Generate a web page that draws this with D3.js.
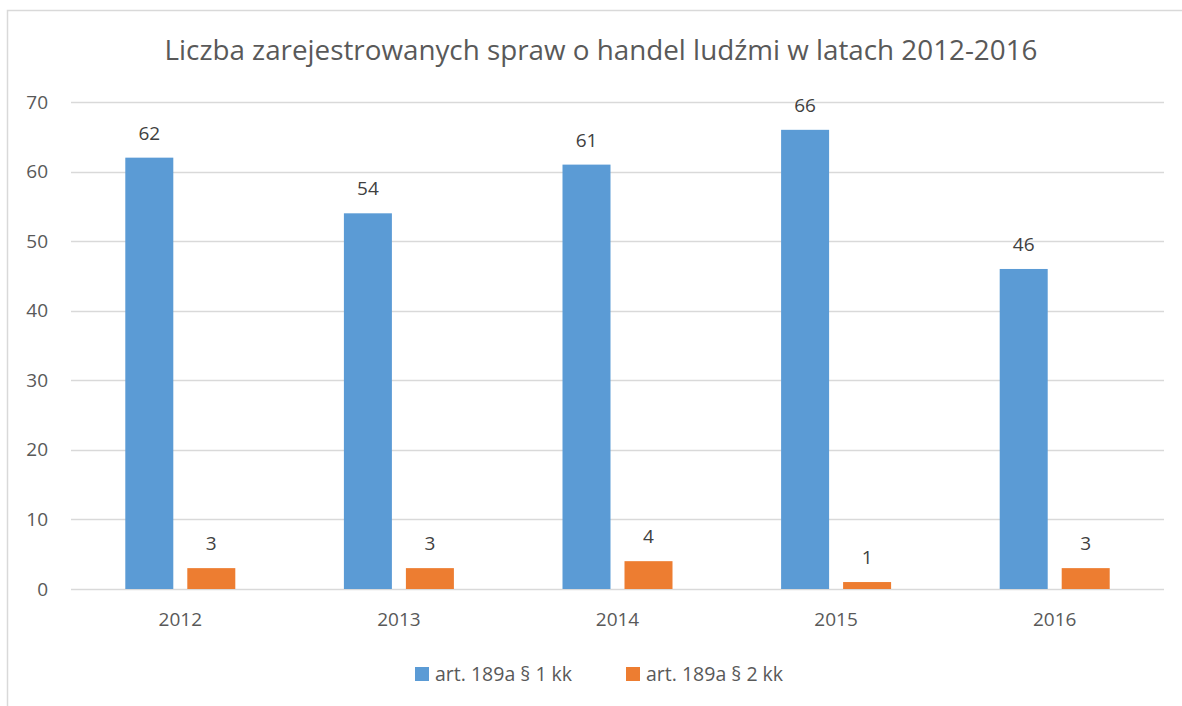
<!DOCTYPE html>
<html>
<head>
  <meta charset="utf-8">
  <script src="https://d3js.org/d3.v7.min.js"></script>
  <style>
    body { margin: 0; background: #fff; }
    text { font-family: "Open Sans", "DejaVu Sans", sans-serif; fill: #595959; }
  </style>
</head>
<body>
<div id="chart"></div>
<script>
  // data
  var years = ["2012", "2013", "2014", "2015", "2016"];
  var art1 = [62, 54, 61, 66, 46];
  var art2 = [3, 3, 4, 1, 3];
  var seriesNames = ["art. 189a § 1 kk", "art. 189a § 2 kk"];
  var colors = ["#5b9bd5", "#ed7d31"];
  var yTicks = [0, 10, 20, 30, 40, 50, 60, 70];

  var W = 1182, H = 706;
  var margin = {top: 102, right: 18, bottom: 117, left: 71};
  var width = W - margin.left - margin.right,
      height = H - margin.top - margin.bottom;
  var fontAx = "19px";

  var svg = d3.select("#chart").append("svg")
    .attr("width", W).attr("height", H);

  // chart border (cut at right / bottom like the screenshot)
  svg.append("rect")
    .attr("x", 7.5).attr("y", 10.5)
    .attr("width", 1200).attr("height", 800)
    .style("fill", "none").style("stroke", "#d9d9d9").style("stroke-width", 1.5);

  svg.append("text")
    .attr("x", 601).attr("y", 60)
    .attr("text-anchor", "middle")
    .style("font-size", "27.8px")
    .text("Liczba zarejestrowanych spraw o handel ludźmi w latach 2012-2016");

  var g = svg.append("g")
    .attr("transform", "translate(" + margin.left + "," + margin.top + ")");

  var x = d3.scaleBand().domain(years).range([0, width]);
  var y = d3.scaleLinear().domain([0, 70]).range([height, 0]);

  // gridlines
  g.selectAll(".grid").data(yTicks).enter().append("line")
    .attr("x1", 0).attr("x2", width)
    .attr("y1", function(d) { return Math.round(y(d)) + 0.5; })
    .attr("y2", function(d) { return Math.round(y(d)) + 0.5; })
    .style("stroke", "#d9d9d9").style("stroke-width", 1.5);

  // y axis labels
  var yAxis = g.append("g").call(d3.axisLeft(y).tickValues(yTicks).tickSize(0).tickPadding(23));
  yAxis.select(".domain").remove();
  yAxis.selectAll("text").style("font-size", fontAx).style("fill", "#595959")
    .style("font-family", "\"Open Sans\", sans-serif");

  // x axis labels
  var xAxis = g.append("g").attr("transform", "translate(0," + height + ")")
    .call(d3.axisBottom(x).tickSize(0).tickPadding(24));
  xAxis.select(".domain").remove();
  xAxis.selectAll("text").style("font-size", fontAx).style("fill", "#595959")
    .style("font-family", "\"Open Sans\", sans-serif");

  var barW = 48, gap = 14;
  var series = [art1, art2];
  series.forEach(function(vals, si) {
    var off = si === 0 ? -gap / 2 - barW : gap / 2;
    g.selectAll(".bar" + si).data(vals).enter().append("rect")
      .attr("x", function(d, i) { return x(years[i]) + x.bandwidth() / 2 + off; })
      .attr("y", function(d) { return y(d); })
      .attr("width", barW)
      .attr("height", function(d) { return height - y(d); })
      .style("fill", colors[si]);
    g.selectAll(".lab" + si).data(vals).enter().append("text")
      .attr("x", function(d, i) { return x(years[i]) + x.bandwidth() / 2 + off + barW / 2; })
      .attr("y", function(d) { return y(d) - 18; })
      .attr("text-anchor", "middle")
      .style("font-size", fontAx)
      .style("fill", "#404040")
      .text(function(d) { return d; });
  });

  // legend
  var legX = [415, 626];
  seriesNames.forEach(function(name, i) {
    svg.append("rect")
      .attr("x", legX[i]).attr("y", 667)
      .attr("width", 14).attr("height", 14)
      .style("fill", colors[i]);
    svg.append("text")
      .attr("x", legX[i] + 20).attr("y", 681)
      .style("font-size", "19.5px")
      .text(name);
  });
</script>
</body>
</html>
